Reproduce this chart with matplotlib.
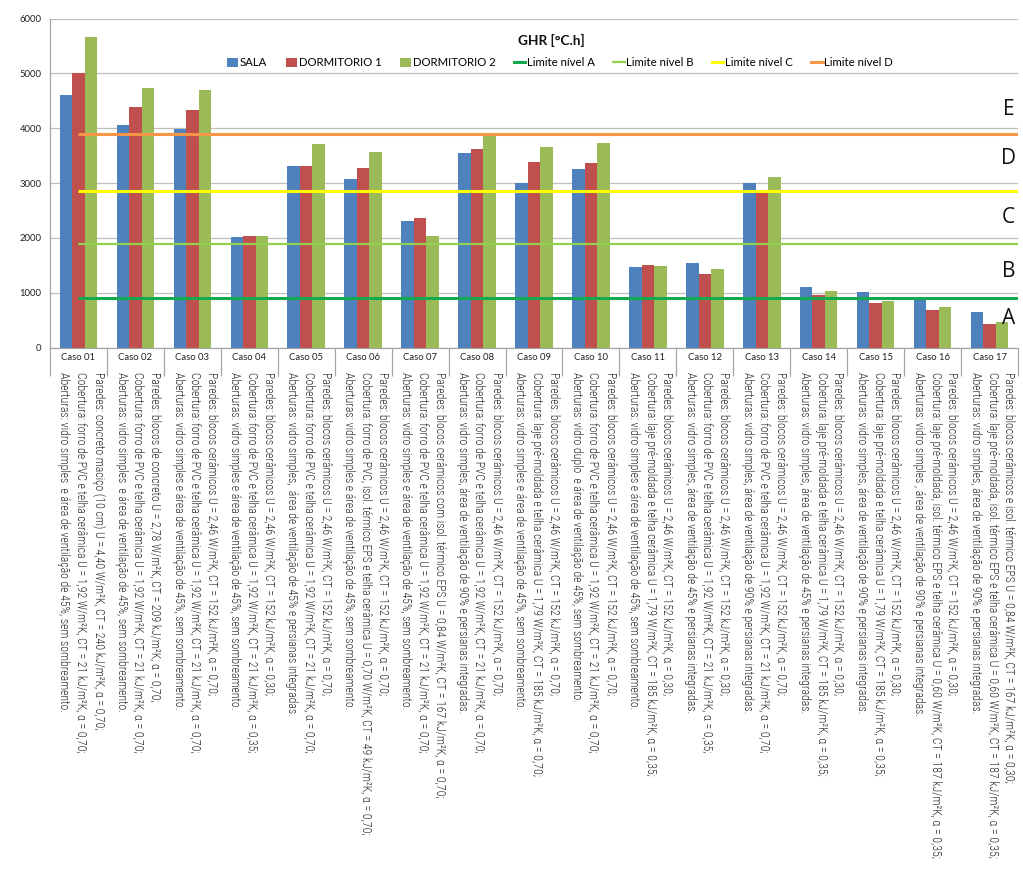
import matplotlib
matplotlib.use("Agg")
import matplotlib.pyplot as plt
import matplotlib.transforms as mtransforms
from matplotlib.patches import Patch
from matplotlib.lines import Line2D
import numpy as np

# ---------------- data ----------------
cases = ["Caso 01", "Caso 02", "Caso 03", "Caso 04", "Caso 05", "Caso 06", "Caso 07",
         "Caso 08", "Caso 09", "Caso 10", "Caso 11", "Caso 12", "Caso 13", "Caso 14",
         "Caso 15", "Caso 16", "Caso 17"]
sala = [4600, 4050, 3990, 2010, 3315, 3070, 2315, 3545, 2995, 3250, 1470, 1550, 3005,
        1115, 1015, 905, 645]
dormitorio1 = [5010, 4380, 4340, 2030, 3315, 3280, 2355, 3625, 3380, 3365, 1505, 1340,
               2835, 955, 810, 685, 440]
dormitorio2 = [5665, 4725, 4700, 2035, 3720, 3565, 2030, 3850, 3650, 3730, 1495, 1440,
               3110, 1025, 860, 735, 470]
series_names = ["SALA", "DORMITORIO 1", "DORMITORIO 2"]
limit_names = ["Limite nível A", "Limite nível B", "Limite nível C", "Limite nível D"]
limit_values = [910, 1895, 2860, 3890]
level_letters = ["A", "B", "C", "D", "E"]
level_label_y = [540, 1380, 2380, 3440, 4350]
y_ticks = [0, 1000, 2000, 3000, 4000, 5000, 6000]
title = "GHR [°C.h]"

descriptions = [
    ["Paredes: concreto maciço (10 cm) U = 4,40 W/m²K, CT = 240 kJ/m²K, α = 0,70;",
     "Cobertura: forro de PVC e telha cerâmica U = 1,92 W/m²K, CT = 21 kJ/m²K, α = 0,70;",
     "Aberturas: vidro simples  e área de ventilação de 45%, sem sombreamento."],
    ["Paredes: blocos de concreto U = 2,78 W/m²K, CT = 209 kJ/m²K, α = 0,70;",
     "Cobertura: forro de PVC e telha cerâmica U = 1,92 W/m²K, CT = 21 kJ/m²K, α = 0,70;",
     "Aberturas: vidro simples  e área de ventilação de 45%, sem sombreamento."],
    ["Paredes: blocos cerâmicos U = 2,46 W/m²K, CT = 152 kJ/m²K, α = 0,70;",
     "Cobertura: forro de PVC e telha cerâmica U = 1,92 W/m²K, CT = 21 kJ/m²K, α = 0,70;",
     "Aberturas: vidro simples e área de ventilação de 45%, sem sombreamento."],
    ["Paredes: blocos cerâmicos U = 2,46 W/m²K, CT = 152 kJ/m²K, α = 0,30;",
     "Cobertura: forro de PVC e telha cerâmica U = 1,92 W/m²K, CT = 21 kJ/m²K, α = 0,35;",
     "Aberturas: vidro simples e área de ventilação de 45%, sem sombreamento."],
    ["Paredes: blocos cerâmicos U = 2,46 W/m²K, CT = 152 kJ/m²K, α = 0,70;",
     "Cobertura: forro de PVC e telha cerâmica U = 1,92 W/m²K, CT = 21 kJ/m²K, α = 0,70;",
     "Aberturas: vidro simples,  área de ventilação de 45% e persianas integradas."],
    ["Paredes: blocos cerâmicos U = 2,46 W/m²K, CT = 152 kJ/m²K, α = 0,70;",
     "Cobertura: forro de PVC, isol. térmico EPS e telha cerâmica U = 0,70 W/m²K, CT = 49 kJ/m²K, α = 0,70;",
     "Aberturas: vidro simples e área de ventilação de 45%, sem sombreamento."],
    ["Paredes: blocos cerâmicos com isol. térmico EPS U = 0,84 W/m²K, CT = 167 kJ/m²K, α = 0,70;",
     "Cobertura: forro de PVC e telha cerâmica U = 1,92 W/m²K, CT = 21 kJ/m²K, α = 0,70;",
     "Aberturas: vidro simples e área de ventilação de 45%, sem sombreamento."],
    ["Paredes: blocos cerâmicos U = 2,46 W/m²K, CT = 152 kJ/m²K, α = 0,70;",
     "Cobertura: forro de PVC e telha cerâmica U = 1,92 W/m²K, CT = 21 kJ/m²K, α = 0,70;",
     "Aberturas: vidro simples, área de ventilação de 90% e persianas integradas."],
    ["Paredes: blocos cerâmicos U = 2,46 W/m²K, CT = 152 kJ/m²K, α = 0,70;",
     "Cobertura: laje pré-moldada e telha cerâmica U = 1,79 W/m²K, CT = 185 kJ/m²K, α = 0,70;",
     "Aberturas: vidro simples e área de ventilação de 45%, sem sombreamento."],
    ["Paredes: blocos cerâmicos U = 2,46 W/m²K, CT = 152 kJ/m²K, α = 0,70;",
     "Cobertura: forro de PVC e telha cerâmica U = 1,92 W/m²K, CT = 21 kJ/m²K, α = 0,70;",
     "Aberturas: vidro duplo  e área de ventilação de 45%, sem sombreamento."],
    ["Paredes: blocos cerâmicos U = 2,46 W/m²K, CT = 152 kJ/m²K, α = 0,30;",
     "Cobertura: laje pré-moldada e telha cerâmica U = 1,79 W/m²K, CT = 185 kJ/m²K, α = 0,35;",
     "Aberturas: vidro simples e área de ventilação de 45%, sem sombreamento."],
    ["Paredes: blocos cerâmicos U = 2,46 W/m²K, CT = 152 kJ/m²K, α = 0,30;",
     "Cobertura: forro de PVC e telha cerâmica U = 1,92 W/m²K, CT = 21 kJ/m²K, α = 0,35;",
     "Aberturas: vidro simples, área de ventilação de 45% e persianas integradas."],
    ["Paredes: blocos cerâmicos U = 2,46 W/m²K, CT = 152 kJ/m²K, α = 0,70;",
     "Cobertura: forro de PVC e telha cerâmica U = 1,92 W/m²K, CT = 21 kJ/m²K, α = 0,70;",
     "Aberturas: vidro simples, área de ventilação de 90% e persianas integradas."],
    ["Paredes: blocos cerâmicos U = 2,46 W/m²K, CT = 152 kJ/m²K, α = 0,30;",
     "Cobertura: laje pré-moldada e telha cerâmica U = 1,79 W/m²K, CT = 185 kJ/m²K, α = 0,35;",
     "Aberturas: vidro simples, área de ventilação de 45% e persianas integradas."],
    ["Paredes: blocos cerâmicos U = 2,46 W/m²K, CT = 152 kJ/m²K, α = 0,30;",
     "Cobertura: laje pré-moldada e telha cerâmica U = 1,79 W/m²K, CT = 185 kJ/m²K, α = 0,35;",
     "Aberturas: vidro simples, área de ventilação de 90% e persianas integradas."],
    ["Paredes: blocos cerâmicos U = 2,46 W/m²K, CT = 152 kJ/m²K, α = 0,30;",
     "Cobertura: laje pré-moldada, isol. térmico EPS e telha cerâmica U = 0,60 W/m²K, CT = 187 kJ/m²K, α = 0,35;",
     "Aberturas: vidro simples , área de ventilação de 90% e persianas integradas."],
    ["Paredes: blocos cerâmicos e isol. térmico EPS U = 0,84 W/m²K, CT = 167 kJ/m²K, α = 0,30;",
     "Cobertura: laje pré-moldada, isol. térmico EPS e telha cerâmica U = 0,60 W/m²K, CT = 187 kJ/m²K, α = 0,35;",
     "Aberturas: vidro simples, área de ventilação de 90% e persianas integradas."],
]

# ---------------- style ----------------
bar_colors = ["#4F81BD", "#C0504D", "#9BBB59"]
limit_colors = ["#14A84F", "#92D050", "#FFFF00", "#F79646"]
limit_widths = [2.2, 1.6, 2.2, 2.2]
grid_color = "#BFBFBF"
base_font = "Lato"
cond_font = "Roboto Condensed"

plt.rcParams["font.family"] = [base_font, "DejaVu Sans"]

W, H = 1023, 886
fig = plt.figure(figsize=(W / 100, H / 100), dpi=100)
ax_l, ax_r, ax_t, ax_b = 50, 1018, 18.5, 347.7
ax = fig.add_axes([ax_l / W, 1 - ax_b / H, (ax_r - ax_l) / W, (ax_b - ax_t) / H])

x = np.arange(len(cases))
bw = 0.22
for i, (vals, name, col) in enumerate(zip([sala, dormitorio1, dormitorio2], series_names, bar_colors)):
    ax.bar(x + (i - 1) * bw, vals, width=bw, color=col, label=name, zorder=3)

ax.set_xlim(-0.5, len(cases) - 0.5)
ax.set_ylim(0, 6000)
ax.set_yticks(y_ticks)
ax.set_yticklabels([str(v) for v in y_ticks], fontsize=6.8, color="#222222")
ax.tick_params(axis="y", length=0, pad=6)
ax.yaxis.grid(True, color=grid_color, linewidth=0.9, zorder=0)
ax.set_axisbelow(True)

for s in ["top", "right"]:
    ax.spines[s].set_visible(False)
for s in ["left", "bottom"]:
    ax.spines[s].set_color("#A6A6A6")
    ax.spines[s].set_linewidth(0.9)

# limit lines: from the first category centre to the right edge
for val, col, lw, name in zip(limit_values, limit_colors, limit_widths, limit_names):
    ax.hlines(val, x[0], x[-1] + 0.5, colors=col, linewidth=lw, zorder=4)

# level letters
for letter, yv in zip(level_letters, level_label_y):
    ax.text(0.99, yv, letter, transform=mtransforms.blended_transform_factory(ax.transAxes, ax.transData),
            ha="center", va="center", fontsize=15, family="Open Sans", color="#111111", zorder=5)

# category labels and separators
ax.set_xticks(x)
ax.set_xticklabels(cases, fontsize=6.8, color="#222222")
ax.tick_params(axis="x", which="major", length=0, pad=4)
ax.set_xticks(np.arange(-0.5, len(cases), 1.0), minor=True)
ax.tick_params(axis="x", which="minor", length=20, width=0.9, color="#A6A6A6", direction="out")

# descriptions (rotated, below each category)
trans = mtransforms.blended_transform_factory(ax.transData, ax.transAxes)
desc_top = -(372 - ax_b) / (ax_b - ax_t)
for xi, lines in zip(x, descriptions):
    ax.text(xi + 0.05, desc_top, "\n".join(lines), transform=trans, rotation=270,
            ha="center", va="top", multialignment="left", fontsize=8.5,
            family=cond_font, fontweight="light", color="#2a2a2a", linespacing=1.42)

# title
fig.text(551 / W, 1 - 40 / H, title, ha="center", va="center", fontsize=9.8,
         fontweight="bold", color="#111111")

# legend
handles = [Patch(facecolor=c, edgecolor="none") for c in bar_colors]
handles += [Line2D([0], [0], color=c, linewidth=lw) for c, lw in zip(limit_colors, limit_widths)]
labels = series_names + limit_names
fig.legend(handles, labels, loc="center", bbox_to_anchor=(560 / W, 1 - 63 / H), ncol=7,
           frameon=False, fontsize=8.2, handlelength=1.0, handleheight=0.8,
           handletextpad=0.15, columnspacing=1.6)

fig.savefig("out.png", dpi=100, facecolor="white")
